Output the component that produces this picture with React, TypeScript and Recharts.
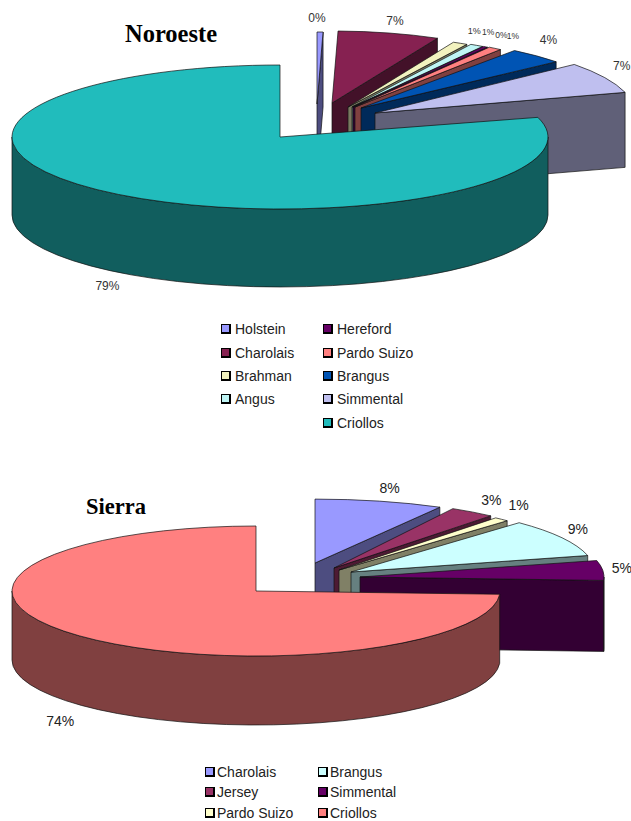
import React from "react";
import { PieChart, Pie, Legend } from "recharts";

// ---------- data ----------
const norteNames = ["Holstein", "Charolais", "Brahman", "Angus", "Hereford", "Pardo Suizo", "Brangus", "Simmental", "Criollos"];
const norteValues = [0.4, 6.8, 1.0, 0.9, 0.3, 0.9, 3.6, 6.7, 79.4];
const norteColors = ["#9999FF", "#862151", "#F2F2BF", "#BFF5F5", "#660066", "#FF8080", "#0054B4", "#BFBFEF", "#21BCBC"];
const norteLegend = [["Holstein", "Hereford"], ["Charolais", "Pardo Suizo"], ["Brahman", "Brangus"], ["Angus", "Simmental"], [null, "Criollos"]];

const sierraNames = ["Charolais", "Jersey", "Pardo Suizo", "Brangus", "Simmental", "Criollos"];
const sierraValues = [8.1, 3.0, 1.0, 9.0, 4.7, 74.2];
const sierraColors = ["#9999FF", "#993366", "#FFFFCC", "#CCFFFF", "#660066", "#FF8080"];
const sierraLegend = [["Charolais", "Brangus"], ["Jersey", "Simmental"], ["Pardo Suizo", "Criollos"]];

// ---------- 3D layout (explosion of each slice, label nudges) ----------
type Look = { dx: number; dy: number; sx: number; sy: number; depth: number; lx: number; ly: number; size: number };
const look = (dx: number, dy: number, sx: number, sy: number, depth: number, lx: number, ly: number, size: number): Look => ({ dx, dy, sx, sy, depth, lx, ly, size });

const norteLook: Look[] = [
  look(37, -33, 0.9, 1, 75, -3, -14, 12),
  look(52, -34, 0.9, 1, 75, 6, -12, 12),
  look(68, -30, 0.9, 1, 75, 14, -12, 9),
  look(72, -30, 0.9, 1, 75, 11.5, -13, 8.5),
  look(73, -30, 0.9, 1, 75, 16, -12, 8.5),
  look(75, -30, 0.9, 1, 75, 18, -12, 8.5),
  look(81, -29, 0.95, 1, 75, 12, -16, 12),
  look(95, -24, 0.97, 1.05, 75, 17, -12, 12),
  look(0, 0, 1, 1, 78, -11, 92, 12),
];
const sierraLook: Look[] = [
  look(59, -28, 1.05, 0.983, 70, 10, -13, 14),
  look(78, -23, 1, 1.046, 70, 19, -12, 14),
  look(83, -21, 1, 1.046, 70, 17, -14, 14),
  look(95, -19, 1, 1.046, 70, 16, -9, 14),
  look(104, -14, 1, 1.046, 71, 19, -2, 14),
  look(0, 0, 1, 1, 69, -19, 85, 14),
];

const RY_RATIO = { norte: 72 / 268, sierra: 65 / 244 };
const FONT = "'Liberation Sans', Arial, sans-serif";
const SERIF = "'Liberation Serif', 'Times New Roman', serif";

const darken = (hex: string) => {
  const n = parseInt(hex.slice(1), 16);
  const c = (v: number) => Math.round(v * 0.5).toString(16).padStart(2, "0");
  return `#${c((n >> 16) & 255)}${c((n >> 8) & 255)}${c(n & 255)}`;
};
const rad = (deg: number) => (deg * Math.PI) / 180;

function geometry(p: any, l: Look, ratio: number) {
  const ax = p.cx + l.dx;
  const ay = p.cy + l.dy;
  const rx = p.outerRadius * l.sx;
  const ry = p.outerRadius * ratio * l.sy;
  const at = (a: number): [number, number] => [ax + rx * Math.sin(rad(a)), ay - ry * Math.cos(rad(a))];
  return { ax, ay, rx, ry, at };
}

function makeShape(looks: Look[], ratio: number) {
  return (p: any, index?: number) => {
    const i = typeof index === "number" ? index : p.index;
    const l = looks[i];
    const { ax, ay, rx, ry, at } = geometry(p, l, ratio);
    const a0 = 90 - Math.max(p.startAngle, p.endAngle);
    const a1 = 90 - Math.min(p.startAngle, p.endAngle);
    const side = darken(p.fill);
    const d = l.depth;
    const st = { stroke: "#111", strokeWidth: 0.7, strokeLinejoin: "round" as const };
    const [x0, y0] = at(a0);
    const [x1, y1] = at(a1);
    const large = a1 - a0 > 180 ? 1 : 0;
    const top = `M${ax},${ay}L${x0},${y0}A${rx},${ry} 0 ${large} 1 ${x1},${y1}Z`;
    const walls: string[] = [];
    if (a1 > 0 && a1 < 180) walls.push(`M${ax},${ay}L${x1},${y1}L${x1},${y1 + d}L${ax},${ay + d}Z`);
    if (a0 > 180 && a0 < 360) walls.push(`M${ax},${ay}L${x0},${y0}L${x0},${y0 + d}L${ax},${ay + d}Z`);
    const s = Math.max(a0, 90);
    const e = Math.min(a1, 270);
    if (e > s) {
      const [sx, sy] = at(s);
      const [ex, ey] = at(e);
      walls.push(`M${sx},${sy}A${rx},${ry} 0 0 1 ${ex},${ey}L${ex},${ey + d}A${rx},${ry} 0 0 0 ${sx},${sy + d}Z`);
    }
    return (
      <g>
        {walls.map((w, k) => (
          <path key={k} d={w} fill={side} {...st} />
        ))}
        <path d={top} fill={p.fill} {...st} />
      </g>
    );
  };
}

function makeLabel(looks: Look[], ratio: number, color: string) {
  return (p: any) => {
    const l = looks[p.index];
    const { at } = geometry(p, l, ratio);
    const [mx, my] = at(90 - p.midAngle);
    return (
      <text x={mx + l.lx} y={my + l.ly} textAnchor="middle" dominantBaseline="central" fontFamily={FONT} fontSize={l.size} fill={color}>
        {`${Math.round(p.percent * 100)}%`}
      </text>
    );
  };
}

function legendContent(rows: (string | null)[][], names: string[], colors: string[], left: number[], textGap: number, rowH: number[], fontSize: number) {
  return () => (
    <div style={{ position: "relative", width: 300, height: 130, fontFamily: FONT, fontSize, color: "#222" }}>
      {rows.map((row, r) =>
        row.map((name, c) =>
          name ? (
            <div key={name} style={{ position: "absolute", left: left[c], top: rowH[r], height: 16, lineHeight: "16px", whiteSpace: "nowrap" }}>
              <span style={{ position: "absolute", left: 0, top: 3, width: 7, height: 7, background: colors[names.indexOf(name)], border: "1px solid #000", borderRightWidth: 2, borderBottomWidth: 2 }} />
              <span style={{ position: "absolute", left: textGap }}>{name}</span>
            </div>
          ) : null
        )
      )}
    </div>
  );
}

const toRows = (names: string[], values: number[], colors: string[]) => names.map((name, i) => ({ name, value: values[i], fill: colors[i] }));
const norteData = toRows(norteNames, norteValues, norteColors);
const sierraData = toRows(sierraNames, sierraValues, sierraColors);

export default function App() {
  return (
    <div style={{ position: "absolute", left: 0, top: 0, width: 631, height: 821, background: "#fff", overflow: "hidden" }}>
      <div style={{ position: "absolute", left: 0, top: 0 }}>
        <PieChart width={631} height={450} margin={{ top: 0, right: 0, bottom: 0, left: 0 }}>
          <Pie
            data={norteData}
            dataKey="value"
            nameKey="name"
            cx={280}
            cy={137}
            outerRadius={268}
            startAngle={90}
            endAngle={-270}
            stroke="none"
            isAnimationActive={false}
            shape={makeShape(norteLook, RY_RATIO.norte)}
            label={makeLabel(norteLook, RY_RATIO.norte, "#333")}
            labelLine={false}
          />
          <text x={125} y={42} fontFamily={SERIF} fontWeight="bold" fontSize={24.5} fill="#000">Noroeste</text>
          <Legend
            layout="vertical"
            wrapperStyle={{ position: "absolute", left: 221, top: 321, width: 300, height: 130 }}
            content={legendContent(norteLegend, norteNames, norteColors, [0, 102], 14, [0, 24, 47, 70, 94], 14)}
          />
        </PieChart>
      </div>
      <div style={{ position: "absolute", left: 0, top: 450 }}>
        <PieChart width={631} height={371} margin={{ top: 0, right: 0, bottom: 0, left: 0 }}>
          <Pie
            data={sierraData}
            dataKey="value"
            nameKey="name"
            cx={256}
            cy={141}
            outerRadius={244}
            startAngle={90}
            endAngle={-270}
            stroke="none"
            isAnimationActive={false}
            shape={makeShape(sierraLook, RY_RATIO.sierra)}
            label={makeLabel(sierraLook, RY_RATIO.sierra, "#222")}
            labelLine={false}
          />
          <text x={86} y={64} fontFamily={SERIF} fontWeight="bold" fontSize={22.5} fill="#000">Sierra</text>
          <Legend
            layout="vertical"
            wrapperStyle={{ position: "absolute", left: 205, top: 314, width: 300, height: 60 }}
            content={legendContent(sierraLegend, sierraNames, sierraColors, [0, 113], 12, [0, 20, 41], 14)}
          />
        </PieChart>
      </div>
    </div>
  );
}
